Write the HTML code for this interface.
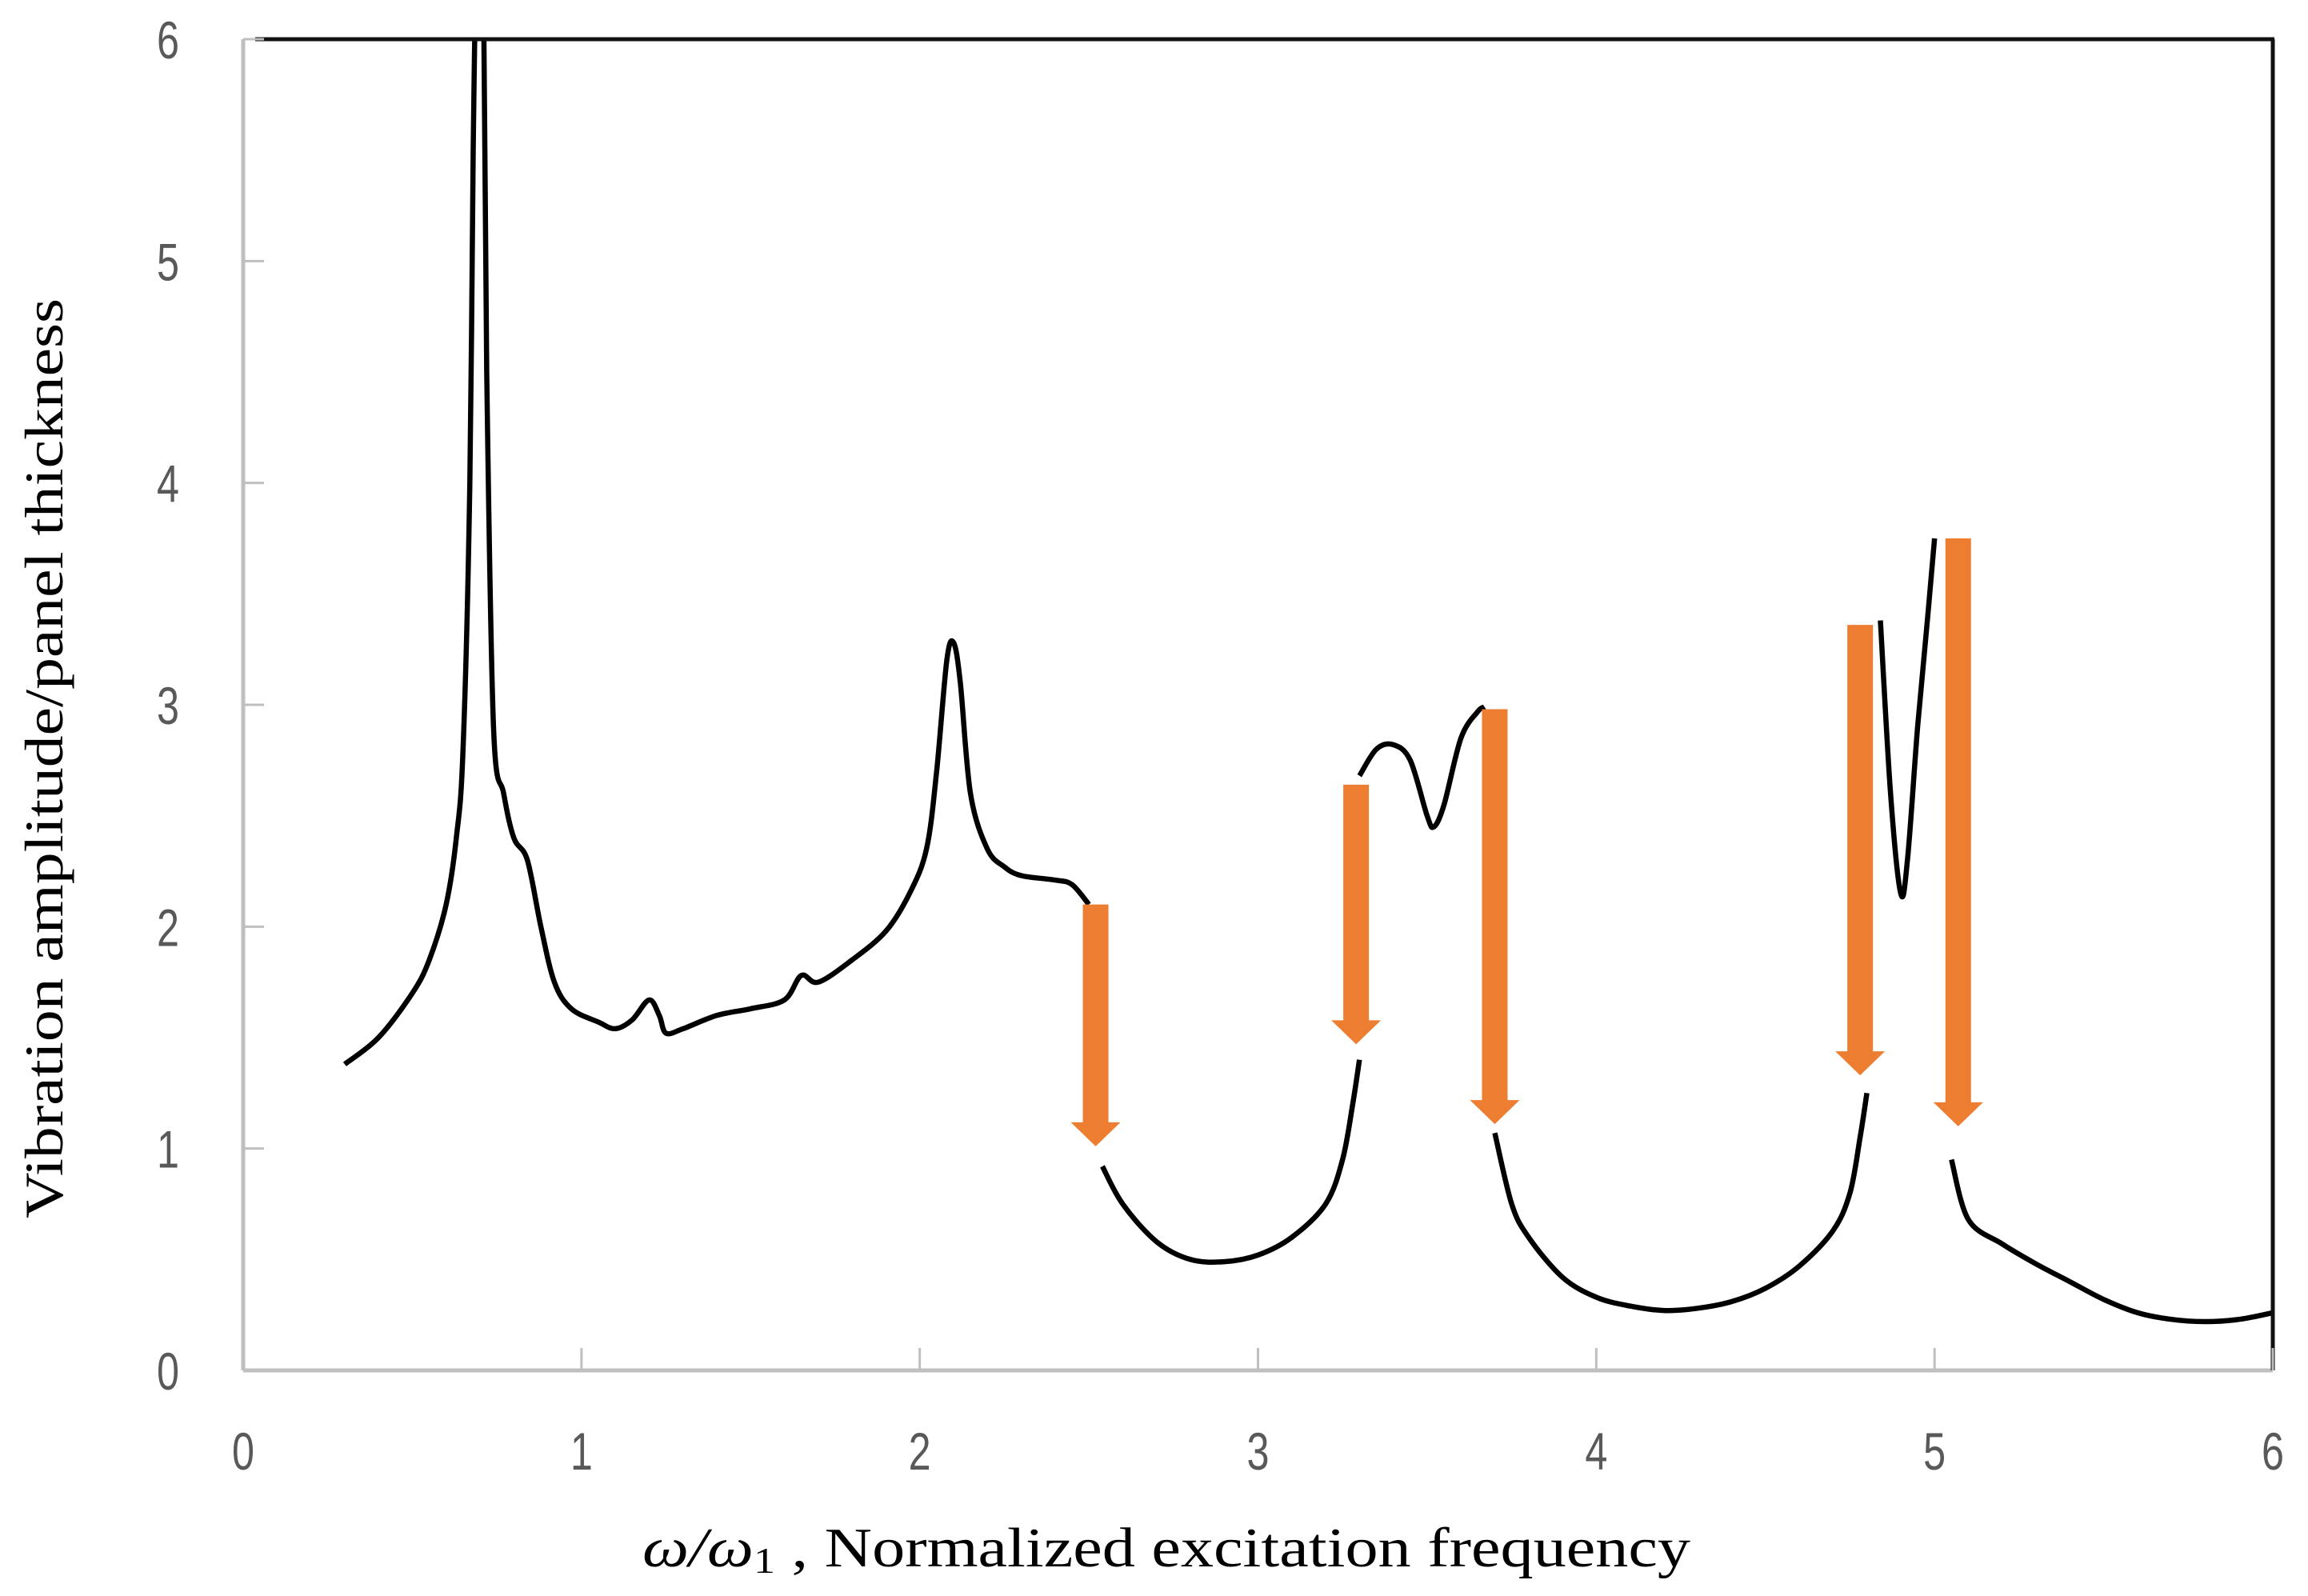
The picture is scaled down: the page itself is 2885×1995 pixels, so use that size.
<!DOCTYPE html>
<html><head><meta charset="utf-8"><style>
html,body{margin:0;padding:0;background:#fff}
svg{display:block}
</style></head><body>
<svg id="chart" width="2885" height="1995" xmlns="http://www.w3.org/2000/svg">
<defs><clipPath id="plotclip"><rect x="304" y="49" width="2537" height="1664"/></clipPath></defs>
<rect x="0" y="0" width="2885" height="1995" fill="#fff"/>
<g id="curves" clip-path="url(#plotclip)"></g>
<g id="axes"></g>
<g id="arrows"></g>
<text x="1458" y="1958" text-anchor="middle" font-family="'Liberation Serif', serif" font-size="70" fill="#000" textLength="1310" lengthAdjust="spacingAndGlyphs"><tspan font-style="italic">ω/ω</tspan><tspan font-size="46" dy="8">1</tspan><tspan dy="-8"> ,  Normalized  excitation  frequency</tspan></text>
<text x="0" y="0" transform="translate(78,948) rotate(-90)" text-anchor="middle" font-family="'Liberation Serif', serif" font-size="68" fill="#000" textLength="1150" lengthAdjust="spacingAndGlyphs">Vibration  amplitude/panel  thickness</text>
</svg>
<script>
const xTicks = [0,1,2,3,4,5,6];
const yTicks = [0,1,2,3,4,5,6];
const seg1X = [0.3,0.4,0.5,0.55,0.6,0.63,0.65,0.67,0.68,0.69,0.71,0.72,0.74,0.77,0.8,0.84,0.88,0.92,0.97,1.05,1.1,1.15,1.2,1.23,1.25,1.3,1.4,1.5,1.6,1.65,1.7,1.8,1.9,1.97,2.02,2.05,2.08,2.1,2.12,2.15,2.2,2.25,2.3,2.4,2.45,2.5];
const seg1Y = [1.38,1.5,1.7,1.85,2.1,2.4,2.8,4,5.5,6.3,6.3,4.5,2.9,2.6,2.4,2.3,2.0,1.75,1.63,1.57,1.54,1.58,1.67,1.6,1.52,1.54,1.6,1.63,1.67,1.78,1.75,1.85,1.98,2.15,2.35,2.7,3.2,3.28,3.1,2.6,2.35,2.27,2.23,2.21,2.19,2.1];
const seg2X = [2.54,2.6,2.7,2.8,2.9,3.0,3.1,3.2,3.25,3.28,3.3];
const seg2Y = [0.92,0.75,0.58,0.5,0.49,0.52,0.6,0.75,0.95,1.2,1.4];
const seg3X = [3.3,3.35,3.4,3.45,3.5,3.52,3.55,3.6,3.65,3.67];
const seg3Y = [2.68,2.8,2.82,2.75,2.5,2.45,2.55,2.85,2.97,2.99];
const seg4X = [3.7,3.75,3.8,3.9,4.0,4.1,4.2,4.3,4.4,4.5,4.6,4.7,4.75,4.78,4.8];
const seg4Y = [1.07,0.75,0.6,0.42,0.33,0.29,0.27,0.28,0.31,0.37,0.47,0.63,0.8,1.05,1.25];
const seg5X = [4.84,4.87,4.9,4.92,4.95,4.98,5.0];
const seg5Y = [3.38,2.6,2.15,2.3,2.9,3.4,3.75];
const seg6X = [5.05,5.1,5.2,5.3,5.4,5.5,5.6,5.7,5.8,5.9,6.0];
const seg6Y = [0.95,0.68,0.57,0.48,0.4,0.32,0.26,0.23,0.22,0.23,0.26];
const arrowX = [2.52,3.29,3.70,4.78,5.07];
const arrowTop = [2.10,2.64,2.98,3.36,3.75];
const arrowTip = [1.01,1.47,1.11,1.33,1.10];

const NS='http://www.w3.org/2000/svg';
const X0=304,X1=2841,Y0=1713,Y1=49;
function sx(v){return X0+(v-0)/(6-0)*(X1-X0);}
function sy(v){return Y0-(v-0)/(6-0)*(Y0-Y1);}
function mk(tag,attrs,parent){const e=document.createElementNS(NS,tag);for(const k in attrs)e.setAttribute(k,attrs[k]);parent.appendChild(e);return e;}
function smoothPath(pts){
  let d='M'+pts[0][0].toFixed(1)+','+pts[0][1].toFixed(1);
  for(let i=0;i<pts.length-1;i++){
    const p0=pts[Math.max(0,i-1)],p1=pts[i],p2=pts[i+1],p3=pts[Math.min(pts.length-1,i+2)];
    const c1x=p1[0]+(p2[0]-p0[0])/6,c1y=p1[1]+(p2[1]-p0[1])/6;
    const c2x=p2[0]-(p3[0]-p1[0])/6,c2y=p2[1]-(p3[1]-p1[1])/6;
    d+=' C'+c1x.toFixed(1)+','+c1y.toFixed(1)+' '+c2x.toFixed(1)+','+c2y.toFixed(1)+' '+p2[0].toFixed(1)+','+p2[1].toFixed(1);
  }
  return d;
}
const axes=document.getElementById('axes');
let l;
l=mk('line',{x1:X0,y1:Y1,x2:X0,y2:Y0,stroke:'#bfbfbf','stroke-width':5},axes);


l=mk('line',{x1:X0,y1:Y0,x2:X1,y2:Y0,stroke:'#bfbfbf','stroke-width':5},axes);


l=mk('line',{x1:X0+15,y1:Y1,x2:X1+2,y2:Y1,stroke:'#111','stroke-width':5},axes);


l=mk('line',{x1:X1,y1:Y1,x2:X1,y2:Y0,stroke:'#111','stroke-width':5},axes);


xTicks.forEach(v=>{
  const t=mk('line',{x1:sx(v),y1:Y0,x2:sx(v),y2:Y0-28,stroke:'#bfbfbf','stroke-width':3},axes);
  
  
  const tx=mk('text',{x:sx(v),y:1837,'text-anchor':'middle','font-family':"'Liberation Sans', sans-serif",'font-size':66,fill:'#595959',textLength:28,lengthAdjust:'spacingAndGlyphs'},axes);
  tx.textContent=v;
  
  
});
yTicks.forEach(v=>{
  const t=mk('line',{x1:X0,y1:sy(v),x2:X0+26,y2:sy(v),stroke:'#bfbfbf','stroke-width':3},axes);
  
  
  const tx=mk('text',{x:210,y:sy(v)+24,'text-anchor':'middle','font-family':"'Liberation Sans', sans-serif",'font-size':66,fill:'#595959',textLength:28,lengthAdjust:'spacingAndGlyphs'},axes);
  tx.textContent=v;
  
  
});
const curves=document.getElementById('curves');
[[seg1X,seg1Y],[seg2X,seg2Y],[seg3X,seg3Y],[seg4X,seg4Y],[seg5X,seg5Y],[seg6X,seg6Y]].forEach((s,i)=>{
  const pts=s[0].map((x,j)=>[sx(x),sy(s[1][j])]);
  const p=mk('path',{d:smoothPath(pts),fill:'none',stroke:'#000','stroke-width':6.5,'stroke-linejoin':'round','stroke-linecap':'butt'},curves);
  
  
});
const arrows=document.getElementById('arrows');
arrowX.forEach((v,i)=>{
  const cx=sx(v),top=sy(arrowTop[i]),tip=sy(arrowTip[i]);
  const hs=tip-30;
  const d=`M${cx-16},${top} L${cx+16},${top} L${cx+16},${hs} L${cx+31},${hs} L${cx},${tip} L${cx-31},${hs} L${cx-16},${hs} Z`;
  const p=mk('path',{d:d,fill:'#ed7d31'},arrows);
  
  
});
</script>
</body></html>
